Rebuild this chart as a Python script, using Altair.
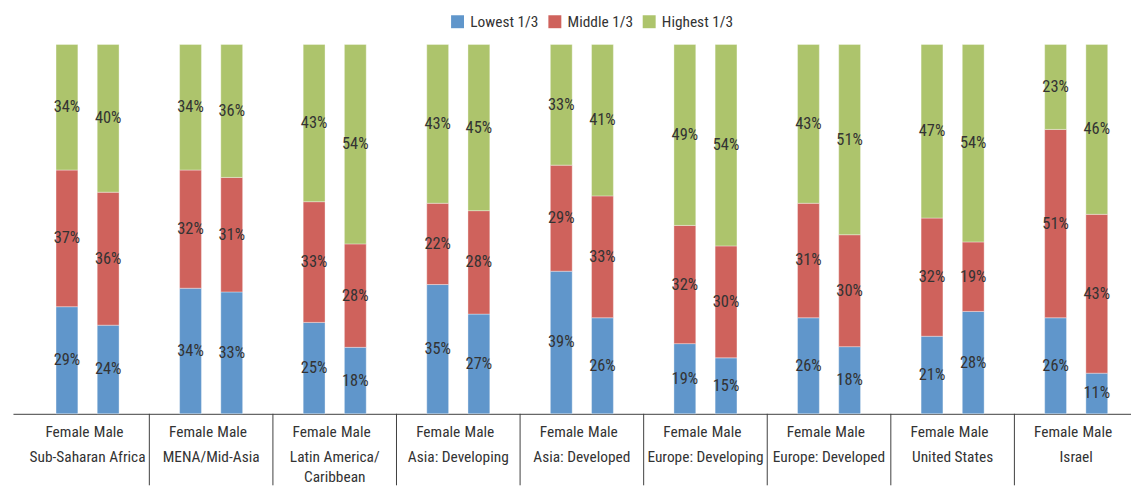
import altair as alt
import pandas as pd

regions = ["Sub-Saharan Africa", "MENA/Mid-Asia", "Latin America/\nCaribbean",
           "Asia: Developing", "Asia: Developed", "Europe: Developing",
           "Europe: Developed", "United States", "Israel"]
sexes = ["Female", "Male"]
tiers = ["Lowest 1/3", "Middle 1/3", "Highest 1/3"]
colors = ["#6096CB", "#CF625C", "#ADC46C"]

lowest_f = [29, 34, 25, 35, 39, 19, 26, 21, 26]
middle_f = [37, 32, 33, 22, 29, 32, 31, 32, 51]
highest_f = [34, 34, 43, 43, 33, 49, 43, 47, 23]
lowest_m = [24, 33, 18, 27, 26, 15, 18, 28, 11]
middle_m = [36, 31, 28, 28, 33, 30, 30, 19, 43]
highest_m = [40, 36, 54, 45, 41, 54, 51, 54, 46]

FONT = "Roboto Condensed, Roboto, sans-serif"
W, H = 1126, 372

rows = []
for i, reg in enumerate(regions):
    for j, sex in enumerate(sexes):
        vals = [lowest_f[i], middle_f[i], highest_f[i]] if sex == "Female" else \
               [lowest_m[i], middle_m[i], highest_m[i]]
        for k, t in enumerate(tiers):
            rows.append({"region": reg, "sex": sex, "pos": 3 * i + j,
                         "tier": t, "tier_order": k, "value": vals[k]})
df = pd.DataFrame(rows)

tick_pos = sorted(df["pos"].unique().tolist())
reg_df = pd.DataFrame({"region": regions,
                       "pos": [3 * i + 0.5 for i in range(len(regions))]})
sep_df = pd.DataFrame({"pos": [3 * i + 2 for i in range(len(regions) - 1)]})

xscale = alt.Scale(domain=[-1.19, 25.71], nice=False, zero=False)

bars = alt.Chart(df).mark_bar(width=22, stroke="#ffffff", strokeWidth=0.6, strokeOpacity=0.6).encode(
    x=alt.X("pos:Q", scale=xscale,
            axis=alt.Axis(values=tick_pos, title=None, grid=False, ticks=False,
                          labelExpr="datum.value % 3 == 0 ? 'Female' : 'Male'",
                          labelFontSize=15.5, labelColor="#333333", labelFont=FONT,
                          labelPadding=11, labelOverlap=False, labelFlush=False,
                          domainColor="#404040", domainWidth=1)),
    y=alt.Y("value:Q", stack="normalize", axis=None, scale=alt.Scale(domain=[0, 1])),
    color=alt.Color("tier:N", scale=alt.Scale(domain=tiers, range=colors),
                    legend=alt.Legend(orient="none", legendX=440, legendY=-31,
                                      direction="horizontal", title=None,
                                      symbolType="square", symbolSize=170,
                                      symbolStrokeWidth=0, labelFontSize=15.5,
                                      labelFont=FONT, labelColor="#333333",
                                      columnPadding=8, labelOffset=5)),
    order=alt.Order("tier_order:Q"),
)

labels = alt.Chart(df).transform_stack(
    stack="value", groupby=["pos"], as_=["v0", "v1"], offset="normalize",
    sort=[alt.SortField("tier_order", order="ascending")]
).transform_calculate(
    mid="(datum.v0 + datum.v1) / 2", lab="datum.value + '%'"
).mark_text(fontSize=16.5, font=FONT, color="#333333", baseline="middle").encode(
    x=alt.X("pos:Q", scale=xscale),
    y=alt.Y("mid:Q", scale=alt.Scale(domain=[0, 1])),
    text="lab:N",
)

reg_text = alt.Chart(reg_df).mark_text(fontSize=15.5, font=FONT, color="#333333",
                                       baseline="middle", lineBreak="\n",
                                       lineHeight=20).encode(
    x=alt.X("pos:Q", scale=xscale),
    y=alt.value(H + 44),
    text="region:N",
)

seps = alt.Chart(sep_df).mark_rule(color="#404040", strokeWidth=1).encode(
    x=alt.X("pos:Q", scale=xscale),
    y=alt.value(H),
    y2=alt.value(H + 72),
)

chart = alt.layer(bars, labels, reg_text, seps).properties(
    width=W, height=H,
    padding={"left": 5, "top": 35, "right": 0, "bottom": 72},
    autosize=alt.AutoSizeParams(type="none"),
).configure(font=FONT, view=alt.ViewConfig(stroke=None))

chart.save("out.html", embed_options={"renderer": "svg", "actions": False})
